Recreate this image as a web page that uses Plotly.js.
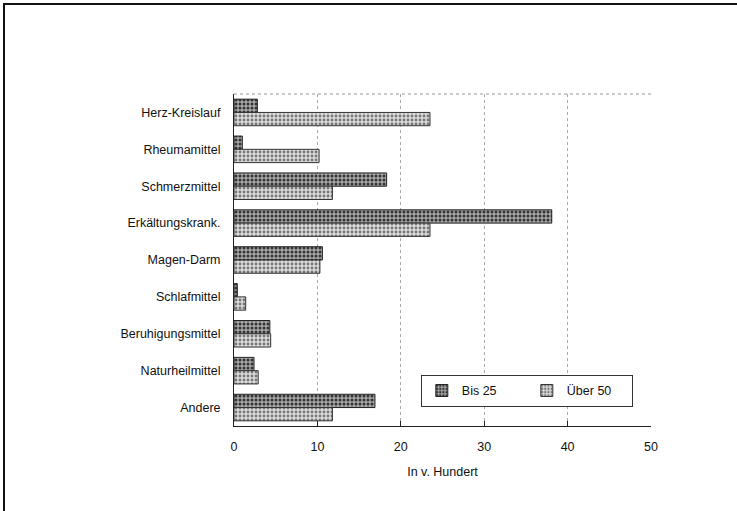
<!DOCTYPE html>
<html>
<head>
<meta charset="utf-8">
<script src="https://cdn.plot.ly/plotly-3.0.1.min.js"></script>
<style>
html,body{margin:0;padding:0;background:#fff;overflow:hidden;}
#chart{width:737px;height:511px;}
#frame{position:absolute;left:3px;top:3px;width:800px;height:600px;border-left:2px solid #111;border-top:2px solid #111;pointer-events:none;}
</style>
</head>
<body>
<div id="chart"></div>
<div id="frame"></div>
<script>
const categories = ["Herz-Kreislauf","Rheumamittel","Schmerzmittel","Erkältungskrank.","Magen-Darm","Schlafmittel","Beruhigungsmittel","Naturheilmittel","Andere"];
const bis25 = [2.8, 1.0, 18.3, 38.1, 10.6, 0.4, 4.3, 2.4, 16.9];
const ueber50 = [23.5, 10.2, 11.8, 23.5, 10.3, 1.4, 4.4, 2.9, 11.8];
const seriesNames = ["Bis 25", "Über 50"];
const xTicks = [0, 10, 20, 30, 40, 50];

const font = {family: "Liberation Sans, Arial, sans-serif", size: 12.5, color: "#111"};

const traces = [
  {
    type: "bar", orientation: "h", name: seriesNames[0],
    y: categories, x: bis25,
    marker: {
      color: "#8c8c8c",
      pattern: {shape: ".", bgcolor: "#a8a8a8", fgcolor: "#333", size: 4, solidity: 0.45},
      line: {color: "#222", width: 1}
    }
  },
  {
    type: "bar", orientation: "h", name: seriesNames[1],
    y: categories, x: ueber50,
    marker: {
      color: "#cfcfcf",
      pattern: {shape: ".", bgcolor: "#dcdcdc", fgcolor: "#777", size: 4, solidity: 0.4},
      line: {color: "#333", width: 1}
    }
  }
];

const layout = {
  width: 737, height: 511,
  margin: {l: 234, r: 86, t: 94, b: 85, autoexpand: false},
  paper_bgcolor: "#fff", plot_bgcolor: "#fff",
  font: font,
  barmode: "group",
  bargap: 0.28,
  bargroupgap: 0,
  showlegend: true,
  legend: {
    orientation: "h",
    x: 0.448, y: 0.154, xanchor: "left", yanchor: "top",
    bgcolor: "#fff", bordercolor: "#333", borderwidth: 1,
    font: {family: font.family, size: 12.5, color: "#111"},
    itemwidth: 30,
    entrywidth: 60,
    tracegroupgap: 0,
    valign: "middle"
  },
  xaxis: {
    range: [0, 50],
    automargin: false,
    tickvals: xTicks,
    ticktext: xTicks.map(String),
    showgrid: true, gridcolor: "#aaa", griddash: "dot", gridwidth: 1,
    showline: true, linecolor: "#222", linewidth: 1,
    ticks: "inside", ticklen: 5, tickcolor: "#222",
    ticklabelstandoff: 9,
    zeroline: false,
    title: {text: "In v. Hundert", font: {family: font.family, size: 12.5, color: "#111"}, standoff: 14},
    tickfont: {family: font.family, size: 12.5, color: "#111"}
  },
  yaxis: {
    autorange: "reversed",
    automargin: false,
    showline: true, linecolor: "#222", linewidth: 1,
    showgrid: false, zeroline: false,
    ticks: "", ticklabelstandoff: 10,
    tickfont: {family: font.family, size: 12.5, color: "#111"}
  },
  shapes: [
    {type: "line", xref: "paper", yref: "paper", x0: 0, x1: 1, y0: 1, y1: 1,
     line: {color: "#999", width: 1, dash: "dot"}}
  ]
};

Plotly.newPlot("chart", traces, layout, {displayModeBar: false, staticPlot: true});
</script>
</body>
</html>
